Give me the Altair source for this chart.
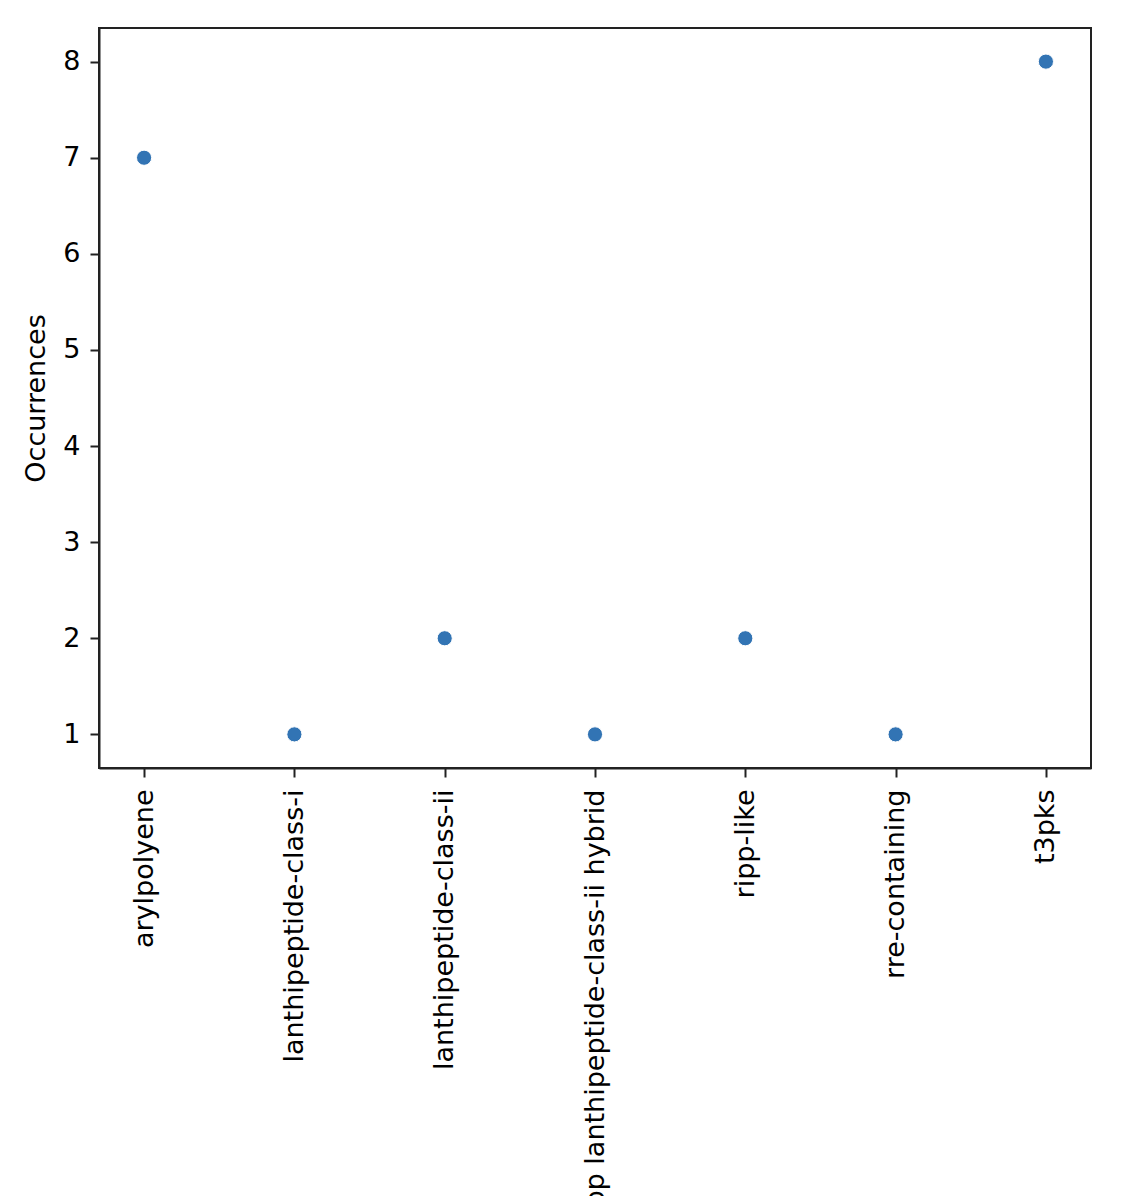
import altair as alt
import pandas as pd

categories = [
    "arylpolyene",
    "lanthipeptide-class-i",
    "lanthipeptide-class-ii",
    "ripp lanthipeptide-class-ii hybrid",
    "ripp-like",
    "rre-containing",
    "t3pks",
]
occurrences = [7, 1, 2, 1, 2, 1, 8]
y_ticks = [1, 2, 3, 4, 5, 6, 7, 8]

df = pd.DataFrame({"category": categories, "Occurrences": occurrences})

FONT = "DejaVu Sans"
FS = 27

chart = (
    alt.Chart(df)
    .mark_point(filled=True, size=230, color="#3274b4", stroke="white", strokeWidth=1, opacity=1)
    .encode(
        x=alt.X(
            "category:N",
            sort=categories,
            scale=alt.Scale(type="point", padding=0.3),
            axis=alt.Axis(
                title=None,
                labelAngle=270,
                labelAlign="right",
                labelBaseline="middle",
                labelPadding=12,
                labelLimit=2000,
                labelOverlap=False,
                labelFont=FONT,
                labelFontSize=FS,
                labelColor="black",
                tickSize=9,
                tickWidth=2,
                tickColor="#222222",
                domainColor="#222222",
                domainWidth=2,
                grid=False,
            ),
        ),
        y=alt.Y(
            "Occurrences:Q",
            scale=alt.Scale(domain=[0.65, 8.35], nice=False, zero=False),
            axis=alt.Axis(
                values=y_ticks,
                title="Occurrences",
                titleFont=FONT,
                titleFontSize=FS,
                titleFontWeight="normal",
                titleColor="black",
                titlePadding=12,
                labelFont=FONT,
                labelFontSize=FS,
                labelColor="black",
                labelPadding=10,
                tickSize=9,
                tickWidth=2,
                tickColor="#222222",
                domainColor="#222222",
                domainWidth=2,
                grid=False,
            ),
        ),
    )
    .properties(
        width=992,
        height=740,
        background="white",
        padding={"left": 91, "top": 20, "right": 25, "bottom": 460},
        autosize=alt.AutoSizeParams(type="none"),
    )
    .configure_view(stroke="#222222", strokeWidth=2)
)

chart.save("out.html", embed_options={"renderer": "svg", "actions": False})
